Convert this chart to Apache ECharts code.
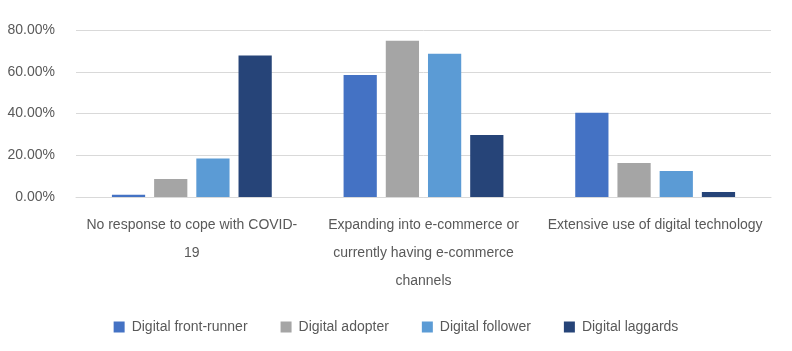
<!DOCTYPE html>
<html>
<head>
<meta charset="utf-8">
<script src="https://cdn.jsdelivr.net/npm/echarts@6/dist/echarts.min.js"></script>
<style>html,body{margin:0;padding:0;background:#fff}#c{width:792px;height:351px}</style>
</head>
<body>
<div id="c"></div>
<script>
const categories = [
  "No response to cope with COVID-19",
  "Expanding into e-commerce or currently having e-commerce channels",
  "Extensive use of digital technology"
];
const categoryLabels = [
  "No response to cope with COVID-\n19",
  "Expanding into e-commerce or\ncurrently having e-commerce\nchannels",
  "Extensive use of digital technology"
];
const seriesNames = ["Digital front-runner", "Digital adopter", "Digital follower", "Digital laggards"];
const frontRunner = [1.1, 58.5, 40.3];
const adopter = [8.6, 74.8, 16.3];
const follower = [18.4, 68.6, 12.5];
const laggards = [67.8, 29.7, 2.4];
const yTicks = [0, 20, 40, 60, 80];

const colors = ["#4472C4", "#A5A5A5", "#5B9BD5", "#264478"];
const allValues = [frontRunner, adopter, follower, laggards];
const font = "'Liberation Sans Narrow', 'Liberation Sans', sans-serif";

const chart = echarts.init(document.getElementById('c'), null, {renderer: 'canvas'});
chart.setOption({
  animation: false,
  color: colors,
  grid: {left: 76, right: 21, top: 30, bottom: 154},
  legend: {
    bottom: 12, left: 'center',
    itemWidth: 11, itemHeight: 11, itemGap: 33,
    icon: 'rect',
    textStyle: {color: '#595959', fontSize: 14, fontFamily: font, padding: [0, 0, 0, 2]},
    data: seriesNames
  },
  xAxis: {
    type: 'category',
    data: categories,
    axisLine: {lineStyle: {color: '#d9d9d9'}},
    axisTick: {show: false},
    axisLabel: {
      interval: 0, margin: 14, color: '#595959', fontSize: 14, fontFamily: font, lineHeight: 28,
      formatter: (v, i) => categoryLabels[i]
    }
  },
  yAxis: {
    type: 'value', min: yTicks[0], max: yTicks[yTicks.length - 1], interval: 20,
    axisLine: {show: false}, axisTick: {show: false},
    splitLine: {lineStyle: {color: '#d9d9d9', width: 1}},
    axisLabel: {margin: 21, color: '#595959', fontSize: 14, fontFamily: "'Liberation Sans', sans-serif",
      formatter: v => v.toFixed(2) + '%'}
  },
  series: seriesNames.map((n, i) => ({
    name: n, type: 'bar', data: allValues[i],
    barGap: '27%', barCategoryGap: '31%'
  }))
});
</script>
</body>
</html>
